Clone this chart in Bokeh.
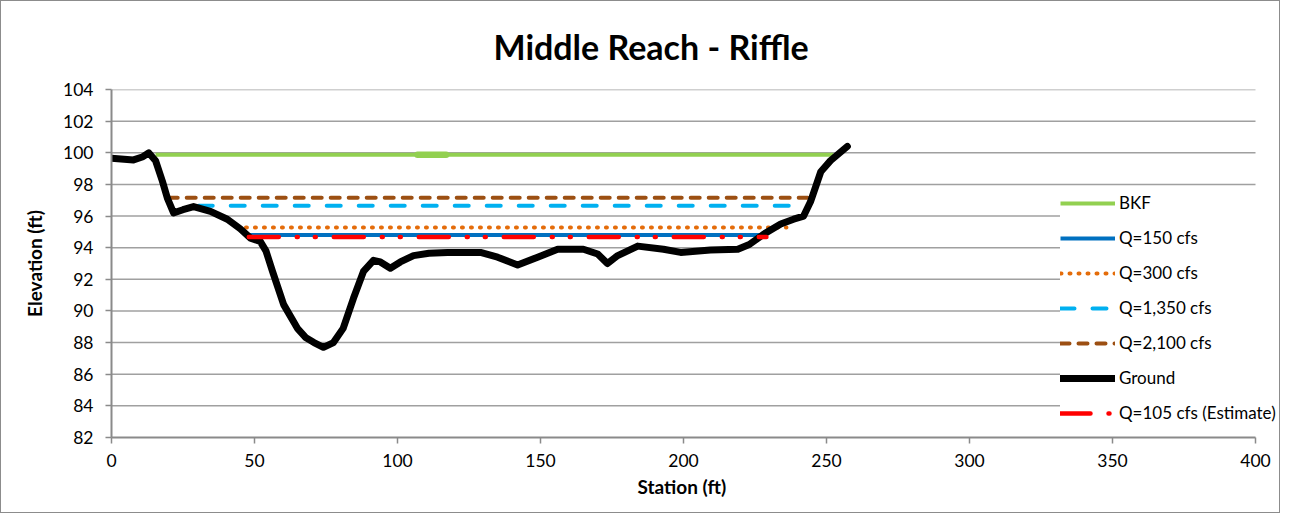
from bokeh.plotting import figure
from bokeh.models import Range1d, Legend, LegendItem, FixedTicker, Title
from bokeh.embed import file_html
from bokeh.resources import INLINE

# ---- data ----
ground_x = [0, 7.7, 11, 13, 15.4, 17.8, 19.6, 21.7, 25, 28.7, 34.6, 40.5, 45, 48.6, 52,
            54, 56.3, 60.2, 65, 68, 70.8, 74.1, 77.6, 81, 84.6, 88.1, 91.6, 94, 97.5,
            101, 105.6, 111, 117.5, 129, 135, 142, 149, 156, 165, 170, 173.4, 177, 184,
            193, 199, 209.4, 219, 223, 228, 234, 238.5, 242, 244.4, 248, 251.4, 257.3]
ground_y = [99.65, 99.55, 99.75, 100.0, 99.5, 98.2, 97.1, 96.2, 96.4, 96.6, 96.3, 95.8,
            95.2, 94.6, 94.4, 93.8, 92.5, 90.4, 88.9, 88.3, 88.0, 87.7, 88.0, 88.9, 90.8,
            92.5, 93.2, 93.1, 92.7, 93.1, 93.5, 93.65, 93.7, 93.7, 93.4, 92.9, 93.4,
            93.9, 93.9, 93.6, 93.0, 93.5, 94.1, 93.9, 93.7, 93.85, 93.9, 94.2, 94.85,
            95.5, 95.8, 96.0, 96.9, 98.8, 99.5, 100.4]

bkf_x = [15.4, 252.4]
bkf_y = [99.88, 99.88]
bkf_thick_x = [107, 117]
bkf_thick_y = [99.88, 99.88]

q150_x = [48, 227]
q150_y = [94.8, 94.8]

q300_x = [47, 236]
q300_y = [95.28, 95.28]

q1350_x = [30.5, 243]
q1350_y = [96.65, 96.65]

q2100_x = [20, 244]
q2100_y = [97.15, 97.15]

q105_x = [48, 229]
q105_y = [94.68, 94.68]

x_ticks = [0, 50, 100, 150, 200, 250, 300, 350, 400]
y_ticks = [82, 84, 86, 88, 90, 92, 94, 96, 98, 100, 102, 104]

FONT = "Lato"

# frame extends past the last tick so the legend (drawn inside the frame) is not clipped
FRAME_W = 1280 - 110 - 1
PX_PER_UNIT = 1144 / (x_ticks[-1] - x_ticks[0])
x_end = x_ticks[0] + FRAME_W / PX_PER_UNIT

p = figure(width=1280, height=513, output_backend="svg", toolbar_location=None,
           x_range=Range1d(x_ticks[0], x_end), y_range=Range1d(y_ticks[0], y_ticks[-1]),
           min_border_left=110, min_border_right=1, min_border_top=87,
           min_border_bottom=77)

p.title.text = "Middle Reach - Riffle"
p.title.align = "left"
p.title.offset = 382
p.title.text_font = FONT
p.title.text_font_size = "34px"
p.title.text_font_style = "bold"
p.title.text_color = "black"
p.title.standoff = 45

p.outline_line_color = None
p.xgrid.grid_line_color = None
p.ygrid.grid_line_color = None

# horizontal gridlines spanning only the tick range
p.segment(x0=[x_ticks[0]] * (len(y_ticks) - 1), y0=y_ticks[1:],
          x1=[x_ticks[-1]] * (len(y_ticks) - 1), y1=y_ticks[1:],
          line_color="#a0a0a0", line_width=1.5)

for ax in (p.xaxis[0], p.yaxis[0]):
    ax.axis_line_color = "#8a8a8a"
    ax.axis_line_width = 2
    ax.major_tick_line_color = "#8a8a8a"
    ax.major_tick_line_width = 1.5
    ax.major_tick_out = 6
    ax.major_tick_in = 0
    ax.minor_tick_line_color = None
    ax.major_label_text_font = FONT
    ax.major_label_text_font_size = "17.5px"
    ax.major_label_text_color = "black"
    ax.axis_label_text_font = FONT
    ax.axis_label_text_font_size = "19px"
    ax.axis_label_text_font_style = "bold"
    ax.axis_label_text_color = "black"

p.xaxis.ticker = FixedTicker(ticks=x_ticks)
p.yaxis.ticker = FixedTicker(ticks=y_ticks)
p.xaxis.bounds = (x_ticks[0], x_ticks[-1])
p.yaxis.axis_label = "Elevation (ft)"
p.xaxis.major_label_standoff = 10
p.yaxis.major_label_standoff = 12
p.yaxis.axis_label_standoff = 14

# x-axis label centred under the tick span (not the extended frame)
xlabel = Title(text="Station (ft)", align="left", offset=526,
               text_font=FONT, text_font_size="19px", text_font_style="bold",
               text_color="black", standoff=7)
p.add_layout(xlabel, "below")

r_bkf = p.line(bkf_x, bkf_y, line_color="#92D050", line_width=4)
p.line(bkf_thick_x, bkf_thick_y, line_color="#92D050", line_width=6.5, line_cap="round")
r_150 = p.line(q150_x, q150_y, line_color="#0070C0", line_width=4)
r_300 = p.line(q300_x, q300_y, line_color="#E46C0A", line_width=4,
               line_dash="1 8", line_cap="round")
r_1350 = p.line(q1350_x, q1350_y, line_color="#00B0F0", line_width=4,
                line_dash="14 18", line_cap="round")
r_2100 = p.line(q2100_x, q2100_y, line_color="#9C4F12", line_width=4,
                line_dash="9 9", line_cap="round")
r_ground = p.line(ground_x, ground_y, line_color="black", line_width=7,
                  line_join="round", line_cap="round")
r_105 = p.line(q105_x, q105_y, line_color="#FF0000", line_width=4.5,
               line_dash="30 18 1 17 1 18", line_cap="round")

legend = Legend(items=[
    LegendItem(label="BKF", renderers=[r_bkf]),
    LegendItem(label="Q=150 cfs", renderers=[r_150]),
    LegendItem(label="Q=300 cfs", renderers=[r_300]),
    LegendItem(label="Q=1,350 cfs", renderers=[r_1350]),
    LegendItem(label="Q=2,100 cfs", renderers=[r_2100]),
    LegendItem(label="Ground", renderers=[r_ground]),
    LegendItem(label="Q=105 cfs (Estimate)", renderers=[r_105]),
], location=(949, 14))
legend.background_fill_color = "white"
legend.background_fill_alpha = 1.0
legend.border_line_color = None
legend.padding = 10
legend.spacing = 14
legend.glyph_width = 55
legend.glyph_height = 20
legend.label_height = 20
legend.label_standoff = 4
legend.label_text_font = FONT
legend.label_text_font_size = "17px"
legend.label_text_color = "black"
legend.margin = 0
p.add_layout(legend, "center")

p.styles = {"border": "1px solid #8c8c8c", "box-sizing": "border-box"}

open("out.html", "w").write(file_html(p, INLINE))
